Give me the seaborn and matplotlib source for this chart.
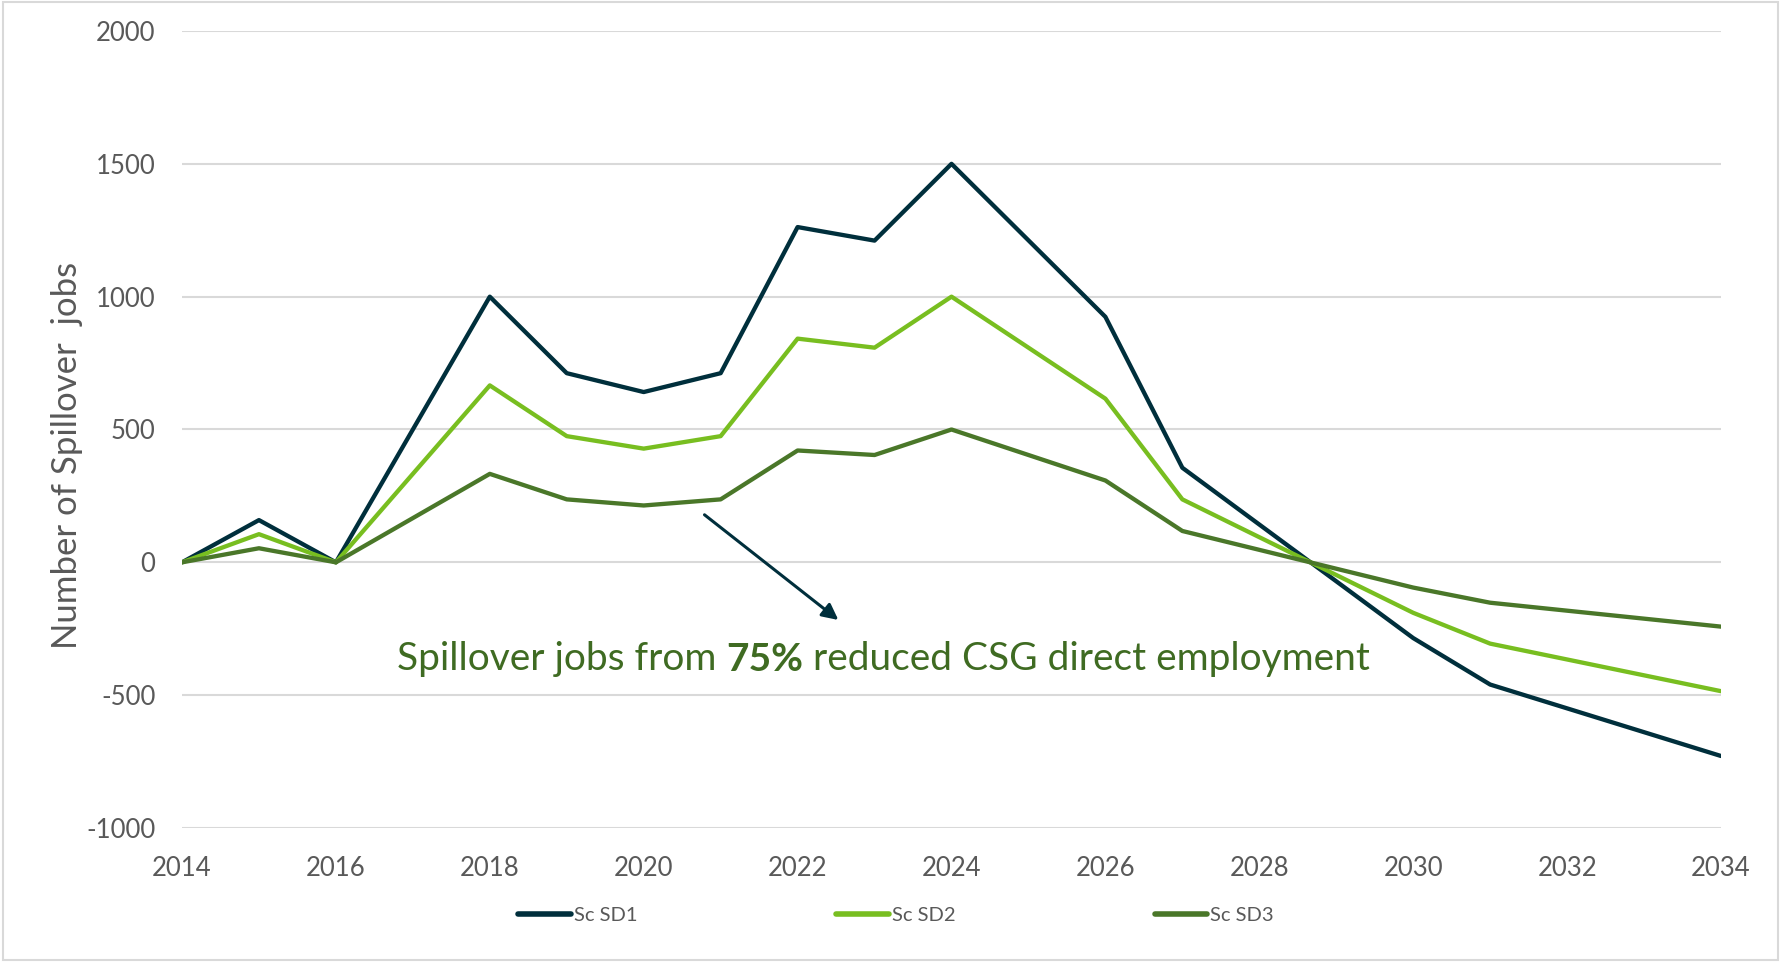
import matplotlib
matplotlib.use("Agg")
import matplotlib.pyplot as plt
from matplotlib.patches import Rectangle
import seaborn as sns
import pandas as pd

# Years at which the series change slope
years = [2014, 2015, 2016, 2018, 2019, 2020, 2021, 2022, 2023, 2024,
         2026, 2027, 2030, 2031, 2034]

# Spillover jobs per scenario
sc_sd1 = [0, 159, 0, 1000, 712, 641, 712, 1262, 1211, 1500,
          924, 356, -285, -460, -729]
sc_sd2 = [0, 106, 0, 666, 475, 428, 475, 842, 808, 1000,
          616, 237, -190, -306, -485]
sc_sd3 = [0, 53, 0, 333, 237, 214, 237, 421, 404, 500,
          308, 118, -95, -152, -242]

series_names = ["Sc SD1", "Sc SD2", "Sc SD3"]
colors = {"Sc SD1": "#002F3C", "Sc SD2": "#78BE20", "Sc SD3": "#4A7729"}

x_ticks = list(range(2014, 2035, 2))
y_ticks = [-1000, -500, 0, 500, 1000, 1500, 2000]

df = pd.DataFrame({
    "year": years * 3,
    "jobs": sc_sd1 + sc_sd2 + sc_sd3,
    "scenario": [n for n in series_names for _ in years],
})

sns.set_theme(style="white")
plt.rcParams["font.family"] = ["Lato", "DejaVu Sans"]

W, H = 1781, 965
fig = plt.figure(figsize=(W / 100, H / 100), dpi=100)
ax = fig.add_axes([182 / W, 1 - 828 / H, (1721 - 182) / W, (828 - 31) / H])

sns.lineplot(data=df, x="year", y="jobs", hue="scenario", palette=colors,
             hue_order=series_names, linewidth=3.1, legend=False, ax=ax,
             estimator=None, sort=True)

ax.set_xlim(2014, 2034)
ax.set_ylim(-1000, 2000)
ax.set_xticks(x_ticks)
ax.set_yticks(y_ticks)
ax.set_xticklabels([str(t) for t in x_ticks])
ax.set_yticklabels([str(t) for t in y_ticks])
ax.tick_params(axis="both", length=0, labelsize=18.5, labelcolor="#595959")
ax.tick_params(axis="x", pad=20)
ax.tick_params(axis="y", pad=19)
ax.set_xlabel("")
ax.set_ylabel("")
for s in ax.spines.values():
    s.set_visible(False)
ax.grid(axis="y", color="#D9D9D9", linewidth=1.5)
ax.grid(axis="x", visible=False)
ax.set_axisbelow(True)

fig.text(66.7 / W, 1 - 455 / H, "Number of Spillover  jobs", rotation=90,
         ha="center", va="center", fontsize=25, color="#595959")

# Callout arrow and caption
ax.annotate("", xy=(2022.53, -217), xytext=(2020.79, 179),
            arrowprops=dict(arrowstyle="-|>", color="#002F3C", lw=2.2,
                            mutation_scale=24, shrinkA=0, shrinkB=0))

txt_color = "#3F6B22"
fs = 28
t1 = ax.text(2016.79, -406, "Spillover jobs from ", fontsize=fs,
             color=txt_color, ha="left", va="baseline")
t2 = ax.annotate("75%", xy=(1, 0), xycoords=t1, fontsize=fs,
                 fontweight="bold", color=txt_color, ha="left", va="bottom")
t3 = ax.annotate(" reduced CSG direct employment", xy=(1, 0), xycoords=t2,
                 fontsize=fs, color=txt_color, ha="left", va="bottom")

handles = ax.get_lines()[:3]
leg = fig.legend(handles, series_names, loc="center",
                 bbox_to_anchor=(896 / W, 1 - 915 / H), ncol=3, frameon=False,
                 fontsize=14.5, handlelength=2.6, handletextpad=0.15,
                 columnspacing=9.9, labelcolor="#595959")
for lh in leg.get_lines():
    lh.set_linewidth(4)
    lh.set_solid_capstyle("round")

fig.add_artist(Rectangle((3 / W, 1 - 960 / H), 1775 / W, 958 / H,
                         transform=fig.transFigure, fill=False,
                         edgecolor="#D9D9D9", linewidth=1.5))

fig.savefig("out.png", dpi=100, facecolor="white")
